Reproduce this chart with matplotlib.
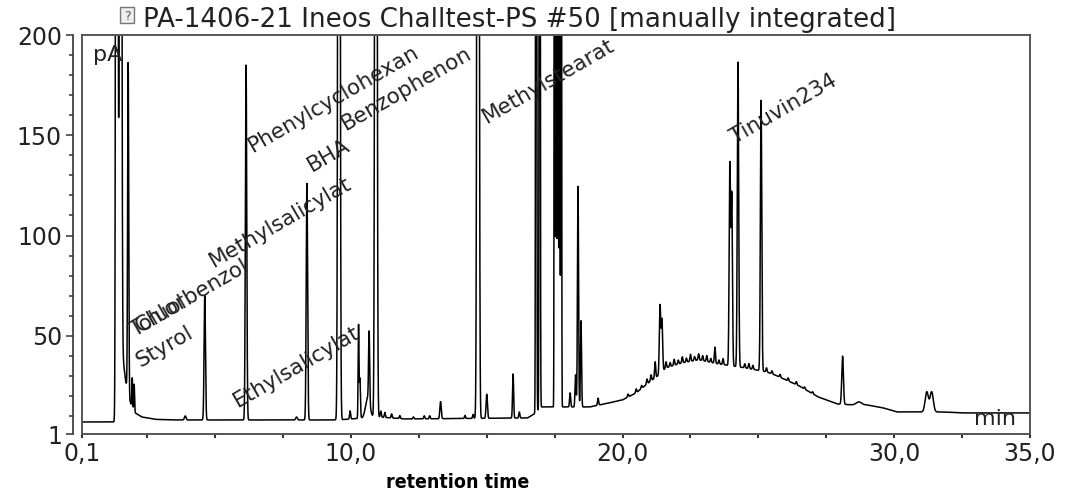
import numpy as np
import matplotlib
matplotlib.use("Agg")
import matplotlib.pyplot as plt
from matplotlib.patches import Rectangle
from matplotlib.lines import Line2D

# ── Data ──────────────────────────────────────────────────────────────────────
# baseline knots (min, pA)
BASE_T = [0.1, 1.35, 1.45, 1.6, 1.7, 1.85, 2.0, 2.3, 2.8, 3.5, 9.5, 10.0, 11.0,
          12.0, 16.5, 16.75, 17.0, 18.8, 19.5, 20.0, 20.5, 21.0, 21.3, 21.6,
          22.2, 22.8, 23.5, 24.5, 25.3, 25.6, 26.5, 27.2, 27.9, 28.5, 29.0,
          29.6, 30.1, 31.0, 31.8, 32.5, 35.0]
BASE_Y = [7, 7, 60, 40, 28, 18, 12, 9.5, 8.3, 8, 8, 8.5, 9.5,
          8.5, 9, 11, 14.5, 14.5, 16.5, 18, 21.5, 27, 30, 34,
          36.5, 38, 36, 34, 32, 30.5, 25, 19.5, 16, 15.5, 15.5,
          14, 12, 12, 12, 11.5, 11.5]

# peaks: retention time (min), height above baseline (pA), sigma (min)
PEAK_RT = [1.38, 1.52, 1.80, 1.95, 2.02, 3.9, 4.62, 6.14, 8.0, 8.38, 9.56,
           9.97, 10.28, 10.33, 10.62, 10.67, 10.92, 11.1, 11.25, 11.5, 11.8,
           12.3, 12.7, 12.9, 13.3, 14.2, 14.5, 14.68, 15.0, 15.97, 16.2,
           16.82, 16.95, 17.50, 17.56, 17.62, 17.68, 17.74, 18.07, 18.27,
           18.36, 18.47, 19.1, 21.2, 21.38, 21.45, 23.4, 23.95, 24.02, 24.25,
           25.1, 28.1, 28.7, 31.2, 31.38]
PEAK_H = [2000, 900, 165, 15, 14, 2, 62, 177, 1.5, 118, 1000,
          4, 46, 20, 10, 35, 1000, 3, 2.5, 2, 1.5,
          1, 1.5, 1.5, 8.5, 1.5, 2, 1000, 12, 22, 3,
          1000, 900, 1000, 900, 1000, 800, 700, 7, 16,
          110, 43, 3.5, 8, 34, 26, 8, 100, 85, 152,
          135, 24, 1.5, 10, 10]
PEAK_W = [0.025, 0.03, 0.02, 0.015, 0.015, 0.03, 0.025, 0.025, 0.03, 0.025, 0.03,
          0.02, 0.015, 0.02, 0.08, 0.02, 0.03, 0.02, 0.02, 0.02, 0.02,
          0.02, 0.02, 0.02, 0.025, 0.02, 0.02, 0.03, 0.025, 0.02, 0.02,
          0.015, 0.015, 0.012, 0.012, 0.012, 0.012, 0.012, 0.02, 0.02,
          0.02, 0.02, 0.02, 0.02, 0.025, 0.025, 0.02, 0.025, 0.025, 0.025,
          0.025, 0.03, 0.1, 0.06, 0.06]

# small ripples on the polymer hump
RIPPLE_RT = [20.2, 20.5, 20.7, 20.9, 21.05, 21.6, 21.75, 21.9, 22.05, 22.2,
             22.35, 22.5, 22.65, 22.8, 22.95, 23.1, 23.25, 23.55, 23.7, 24.5,
             24.65, 24.8, 25.3, 25.5, 25.8, 26.1, 26.4, 26.7, 27.0]
RIPPLE_H = [1.5, 2, 1.5, 2.5, 3, 3, 2, 3, 2, 3,
            2, 3.5, 2, 3, 2.5, 3, 2, 2, 3, 2,
            2.5, 2, 2, 1.5, 1.5, 1.5, 1.5, 1, 1]

LABELS = ["Toluol", "Chlorbenzol", "Styrol", "Methylsalicylat", "Ethylsalicylat",
          "Phenylcyclohexan", "BHA", "Benzophenon", "Methylstearat", "Tinuvin234"]
LABEL_T = [2.05, 2.22, 2.27, 4.96, 5.84, 6.4, 8.57, 9.82, 15.01, 24.14]
LABEL_Y = [49.5, 51.5, 34, 83.8, 14, 141.6, 131.7, 152.6, 155.6, 145.6]

X_MAJOR = [0.1, 10.0, 20.0, 30.0, 35.0]
X_MAJOR_LBL = ["0,1", "10,0", "20,0", "30,0", "35,0"]
X_MINOR = [2.5, 5, 7.5, 12.5, 15, 17.5, 22.5, 25, 27.5, 32.5]
Y_MAJOR = [1, 50, 100, 150, 200]
Y_MINOR = list(range(10, 200, 10))

TITLE = "PA-1406-21 Ineos Challtest-PS #50 [manually integrated]"

# ── Build trace ───────────────────────────────────────────────────────────────
t = np.linspace(0.1, 35.0, 16000)
sig = np.interp(t, BASE_T, BASE_Y)
for rt, h, w in zip(PEAK_RT, PEAK_H, PEAK_W):
    sig += h * np.exp(-0.5 * ((t - rt) / w) ** 2)
for rt, h in zip(RIPPLE_RT, RIPPLE_H):
    sig += h * np.exp(-0.5 * ((t - rt) / 0.02) ** 2)

plt.rcParams.update({"font.family": "DejaVu Sans"})

W, H = 1070, 495
PT = 72 / 100  # points per pixel at dpi 100
fig = plt.figure(figsize=(W / 100, H / 100), dpi=100)
fig.patch.set_facecolor("white")
ax = fig.add_axes([82 / W, 1 - 434 / H, (1030 - 82) / W, (434 - 35) / H])

ax.plot(t, sig, color="black", linewidth=1.1)

ax.set_xlim(0.1, 35.0)
ax.set_ylim(1, 200)

# frame + offset y axis, Chromeleon style
for s in ["top", "right", "bottom"]:
    ax.spines[s].set_color("#555555")
    ax.spines[s].set_linewidth(1.4)
ax.spines["left"].set_position(("outward", 9 * PT))
ax.spines["left"].set_color("#333333")
ax.spines["left"].set_linewidth(1.2)
ax.add_line(Line2D([0, 0], [0, 1], transform=ax.transAxes, color="#555555",
                   linewidth=1.4, clip_on=False))

ax.set_xticks(X_MAJOR)
ax.set_xticklabels(X_MAJOR_LBL)
ax.set_xticks(X_MINOR, minor=True)
ax.set_yticks(Y_MAJOR)
ax.set_yticks(Y_MINOR, minor=True)
ax.tick_params(axis="x", which="both", direction="out", length=4 * PT, width=1.5,
               color="#333333", labelsize=17, pad=4 * PT, labelcolor="#222222")
ax.tick_params(axis="y", which="major", direction="out", length=7 * PT, width=1.1,
               color="#333333", labelsize=17, pad=4 * PT, labelcolor="#222222")
ax.tick_params(axis="y", which="minor", direction="out", length=4 * PT, width=1.1,
               color="#333333")

ax.text(0.012, 0.975, "pA", transform=ax.transAxes, fontsize=16,
        ha="left", va="top", color="#222222")
ax.text(0.985, 0.012, "min", transform=ax.transAxes, fontsize=16,
        ha="right", va="bottom", color="#222222")

for lbl, x, y in zip(LABELS, LABEL_T, LABEL_Y):
    ax.text(x, y, lbl, rotation=30, rotation_mode="anchor", ha="left",
            va="baseline", fontsize=15.5, color="#222222", clip_on=False)

# title with small icon
fig.patches.append(Rectangle((120 / W, 1 - 23 / H), 14 / W, 16 / H,
                             transform=fig.transFigure, facecolor="#eeeeee",
                             edgecolor="#777777", linewidth=1))
fig.text(127 / W, 1 - 16 / H, "?", fontsize=9, ha="center", va="center",
         color="#555555")
fig.text(143 / W, 1 - 27 / H, TITLE, fontsize=18.8, ha="left", va="baseline",
         color="#222222")

fig.text(458 / W, 1 - 482 / H, "retention time", family="DejaVu Sans",
         fontstretch="condensed", fontweight="bold",
         fontsize=14, ha="center", va="center", color="black")

fig.savefig("out.png", dpi=100, facecolor="white")
plt.close(fig)
